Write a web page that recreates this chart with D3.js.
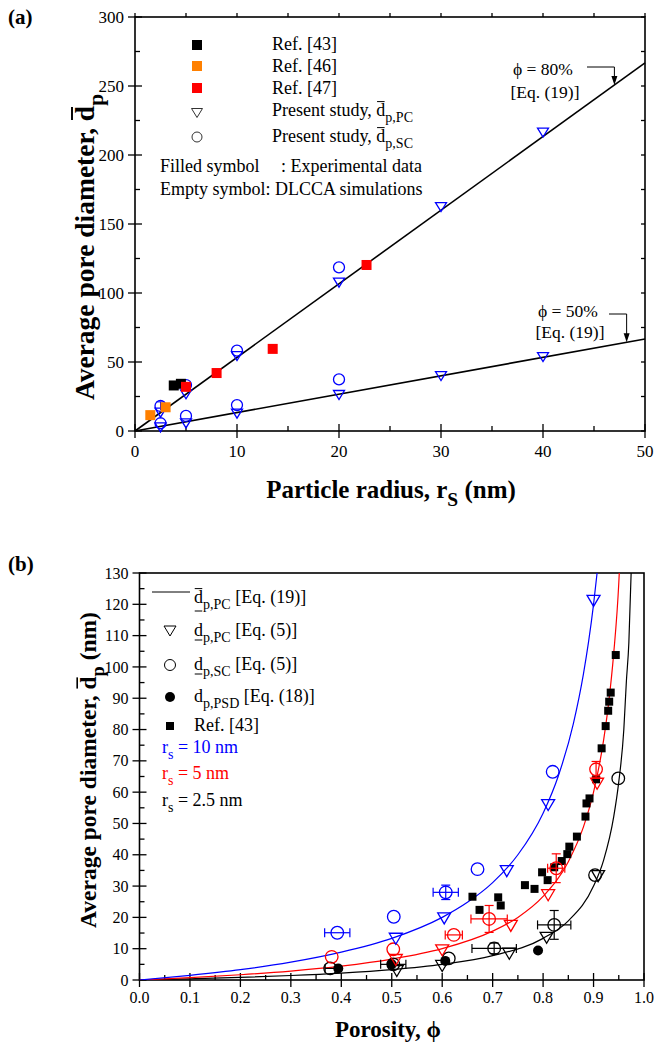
<!DOCTYPE html>
<html><head><meta charset="utf-8">
<script src="https://cdn.jsdelivr.net/npm/d3@7"></script>
<style>
body{margin:0;background:#fff;}
svg text{font-family:"Liberation Serif","Times New Roman",serif;}
</style></head><body>
<svg id="chart" width="654" height="1047"></svg>
<script>
// ---------------- Panel (a) data ----------------
const lineRs = [0, 50];
const line80 = [0, 266.7];
const line50 = [0, 66.7];
const ref43Rs = [3.8, 4.5];
const ref43D = [33.0, 34.2];
const ref46Rs = [1.5, 3.0];
const ref46D = [11.5, 17.2];
const ref47Rs = [5.0, 8.0, 13.5, 22.7];
const ref47D = [32.0, 42.0, 59.5, 120.3];
const pcRs = [2.5, 5, 10, 20, 30, 40];
const pc80 = [14.0, 27.3, 55.0, 108.2, 163.0, 217.0];
const pc50 = [3.3, 6.2, 13.3, 26.8, 40.5, 54.3];
const scRs = [2.5, 5, 10, 20];
const sc80 = [18.1, 33.3, 58.2, 118.6];
const sc80Err = [3.0, 0, 0, 0];
const sc50 = [5.6, 10.9, 18.8, 37.4];

// ---------------- Panel (b) data ----------------
const curvePhi10 = [0, 0.1, 0.2, 0.3, 0.4, 0.5, 0.6, 0.65, 0.7, 0.75, 0.8, 0.83, 0.86, 0.88, 0.89, 0.9, 0.907];
const curveD10 = [0, 1.5, 3.3, 5.7, 8.9, 13.3, 20.0, 24.8, 31.1, 40.0, 53.3, 65.1, 81.9, 97.8, 107.9, 120.0, 130];
const curvePhi5 = [0, 0.1, 0.2, 0.3, 0.4, 0.5, 0.6, 0.7, 0.75, 0.8, 0.85, 0.88, 0.9, 0.92, 0.93, 0.94, 0.95, 0.951];
const curveD5 = [0, 0.74, 1.67, 2.86, 4.44, 6.67, 10.0, 15.6, 20.0, 26.7, 37.8, 48.9, 60.0, 76.7, 88.6, 104.4, 126.7, 130];
const curvePhi25 = [0, 0.1, 0.2, 0.3, 0.4, 0.5, 0.6, 0.7, 0.8, 0.85, 0.9, 0.92, 0.94, 0.95, 0.96, 0.965, 0.97, 0.9745];
const curveD25 = [0, 0.37, 0.83, 1.43, 2.22, 3.33, 5.0, 7.78, 13.3, 18.9, 30.0, 38.3, 52.2, 63.3, 80.0, 95.2, 107.8, 130];

const pcPhi10 = [0.508, 0.604, 0.728, 0.810, 0.900];
const pcD10 = [13.5, 20.0, 35.1, 56.2, 121.4];
const scPhi10 = [0.392, 0.504, 0.607, 0.670, 0.819];
const scD10 = [15.1, 20.2, 28.0, 35.4, 66.5];
const scXErr10 = [0.025, 0, 0.025, 0, 0];
const scYErr10 = [0, 0, 2.3, 0, 0];

const pcPhi5 = [0.508, 0.600, 0.736, 0.810, 0.907];
const pcD5 = [6.7, 9.8, 17.6, 27.4, 63.0];
const scPhi5 = [0.381, 0.503, 0.623, 0.693, 0.826, 0.905];
const scD5 = [7.4, 9.8, 14.4, 19.5, 35.7, 67.3];
const scXErr5 = [0, 0, 0.017, 0.036, 0.017, 0];
const scYErr5 = [0, 0, 0, 4.3, 4.6, 2.5];

const pcPhi25 = [0.510, 0.600, 0.733, 0.807, 0.909];
const pcD25 = [3.2, 4.8, 8.7, 13.8, 33.5];
const scPhi25 = [0.378, 0.503, 0.613, 0.703, 0.822, 0.903, 0.949];
const scD25 = [3.7, 5.0, 6.9, 10.1, 17.6, 33.5, 64.4];
const scXErr25 = [0.01, 0.025, 0, 0.044, 0.033, 0, 0];
const scYErr25 = [0, 0, 0, 1.7, 4.6, 0, 0];

const psdPhi = [0.394, 0.500, 0.606, 0.790];
const psdD = [3.7, 5.0, 6.1, 9.4];

const ref43Phi = [0.660, 0.674, 0.711, 0.716, 0.764, 0.783, 0.798, 0.809, 0.822, 0.837, 0.848, 0.852, 0.867, 0.884, 0.886, 0.892, 0.905, 0.916, 0.924, 0.929, 0.931, 0.934, 0.944];
const ref43DB = [26.6, 22.4, 26.4, 23.8, 30.3, 29.1, 34.4, 31.9, 36.0, 38.0, 40.2, 42.6, 45.8, 52.2, 56.4, 58.0, 64.1, 74.0, 81.1, 86.0, 88.9, 91.8, 103.8];

// tick values
const xTicksA = [0, 10, 20, 30, 40, 50];
const yTicksA = [0, 50, 100, 150, 200, 250, 300];
const xTicksB = [0, 0.1, 0.2, 0.3, 0.4, 0.5, 0.6, 0.7, 0.8, 0.9, 1.0];
const yTicksB = [0, 10, 20, 30, 40, 50, 60, 70, 80, 90, 100, 110, 120, 130];

const BLUE = "#0000ff", RED = "#ff0000", ORANGE = "#ff8000", BLACK = "#000000";
const svg = d3.select("#chart");

// ---------- helpers ----------
function rich(parent, x, y, parts, size, opts = {}) {
  const fill = opts.fill || "#000";
  const subR = opts.subR || 0.78;
  const t = parent.append("text").attr("x", x).attr("y", y).attr("font-size", size).attr("fill", fill);
  if (opts.bold) t.attr("font-weight", "bold");
  if (opts.anchor) t.attr("text-anchor", opts.anchor);
  t.style("white-space", "pre");
  let shift = 0, idx = 0;
  const marks = [];
  parts.forEach(p => {
    const sp = t.append("tspan").text(p.t);
    const target = p.sub ? size * 0.33 : 0;
    if (target - shift !== 0) sp.attr("dy", target - shift);
    shift = target;
    if (p.sub) sp.attr("font-size", size * subR);
    if (p.over || p.under) marks.push({a: idx, b: idx + p.t.length - 1, over: p.over, under: p.under});
    idx += p.t.length;
  });
  const n = t.node();
  marks.forEach(m => {
    const ra = n.getExtentOfChar(m.a), rb = n.getExtentOfChar(m.b);
    const x1 = ra.x + size * 0.04, x2 = rb.x + rb.width - size * 0.04;
    const sw = opts.bold ? size * 0.07 : 1;
    if (m.over) parent.append("line").attr("x1", x1).attr("x2", x2)
      .attr("y1", y - size * 0.8).attr("y2", y - size * 0.8).attr("stroke", fill).attr("stroke-width", sw);
    if (m.under) parent.append("line").attr("x1", x1).attr("x2", x2)
      .attr("y1", y + m.under).attr("y2", y + m.under).attr("stroke", fill).attr("stroke-width", 1);
  });
  return t;
}
function triPath(w, h) {
  return `M${-w/2},${-h/2}L${w/2},${-h/2}L0,${h/2}Z`;
}
function minorVals(a, b, step) { const r = []; for (let v = a; v <= b + 1e-9; v += step) r.push(+v.toFixed(4)); return r; }

// ================= PANEL (a) =================
const xA = d3.scaleLinear().domain([0, 50]).range([135, 645]);
const yA = d3.scaleLinear().domain([0, 300]).range([431, 17]);
const gA = svg.append("g");

const xMinA = [5, 15, 25, 35, 45];
const yMinA = [25, 75, 125, 175, 225, 275];
function tickLines(g, vals, scale, orient, pos, len1, len2) {
  vals.forEach(v => {
    const p = scale(v);
    if (orient === "h") g.append("line").attr("x1", p).attr("x2", p).attr("y1", pos + len1).attr("y2", pos - len2);
    else g.append("line").attr("y1", p).attr("y2", p).attr("x1", pos - len1).attr("x2", pos + len2);
  });
}
const axA = gA.append("g").attr("stroke", "#000").attr("stroke-width", 1.3);
tickLines(axA, xTicksA, xA, "h", yA(0), 7, 7);
tickLines(axA, xMinA, xA, "h", yA(0), 0, 5);
tickLines(axA, yTicksA, yA, "v", xA(0), 7, 7);
tickLines(axA, yMinA, yA, "v", xA(0), 0, 5);
tickLines(axA, xTicksA.concat(xMinA), xA, "h", yA(300), -4, 0);
tickLines(axA, yTicksA.concat(yMinA), yA, "v", xA(50), 4, 0);
gA.append("rect").attr("x", xA(0)).attr("y", yA(300)).attr("width", xA(50) - xA(0)).attr("height", yA(0) - yA(300))
  .attr("fill", "none").attr("stroke", "#000").attr("stroke-width", 1.6);
xTicksA.forEach(v => gA.append("text").attr("x", xA(v)).attr("y", yA(0) + 26).attr("text-anchor", "middle").attr("font-size", 17).text(v));
yTicksA.forEach(v => gA.append("text").attr("x", xA(0) - 11).attr("y", yA(v)).attr("dy", "0.35em").attr("text-anchor", "end").attr("font-size", 17).text(v));

const lineGenA = d3.line();
[line80, line50].forEach(arr => {
  gA.append("path").attr("d", lineGenA(lineRs.map((r, i) => [xA(r), yA(arr[i])])))
    .attr("fill", "none").attr("stroke", "#000").attr("stroke-width", 1.6);
});

const sqA = 10;
function squaresA(rs, d, col) {
  rs.forEach((r, i) => gA.append("rect").attr("x", xA(r) - sqA/2).attr("y", yA(d[i]) - sqA/2).attr("width", sqA).attr("height", sqA).attr("fill", col));
}
pcRs.forEach((r, i) => {
  [pc80[i], pc50[i]].forEach(v => gA.append("path").attr("d", triPath(11, 9)).attr("transform", `translate(${xA(r)},${yA(v) + 1})`)
    .attr("fill", "none").attr("stroke", BLUE).attr("stroke-width", 1.3));
});
scRs.forEach((r, i) => {
  gA.append("circle").attr("cx", xA(r)).attr("cy", yA(sc80[i])).attr("r", 5.5).attr("fill", "none").attr("stroke", BLUE).attr("stroke-width", 1.3);
  gA.append("circle").attr("cx", xA(r)).attr("cy", yA(sc50[i])).attr("r", 5.5).attr("fill", "none").attr("stroke", BLUE).attr("stroke-width", 1.3);
  if (sc80Err[i] > 0) {
    const x = xA(r), y1 = yA(sc80[i] + sc80Err[i]), y2 = yA(sc80[i] - sc80Err[i]);
    gA.append("line").attr("x1", x).attr("x2", x).attr("y1", y1).attr("y2", y2).attr("stroke", BLUE);
    gA.append("line").attr("x1", x - 4).attr("x2", x + 4).attr("y1", y1).attr("y2", y1).attr("stroke", BLUE);
  }
});
squaresA(ref46Rs, ref46D, ORANGE);
squaresA(ref43Rs, ref43D, BLACK);
squaresA(ref47Rs, ref47D, RED);

// legend a
const legA = gA.append("g");
const legX = 197, legTX = 272;
legA.append("rect").attr("x", legX - 5).attr("y", 45 - 5).attr("width", 10).attr("height", 10).attr("fill", BLACK);
legA.append("rect").attr("x", legX - 5).attr("y", 66 - 5).attr("width", 10).attr("height", 10).attr("fill", ORANGE);
legA.append("rect").attr("x", legX - 5).attr("y", 88 - 5).attr("width", 10).attr("height", 10).attr("fill", RED);
legA.append("path").attr("d", triPath(11, 9)).attr("transform", `translate(${legX},113)`).attr("fill", "none").attr("stroke", "#333").attr("stroke-width", 1);
legA.append("circle").attr("cx", legX).attr("cy", 137).attr("r", 5).attr("fill", "none").attr("stroke", "#333").attr("stroke-width", 1);
const fsL = 18;
rich(legA, legTX, 50, [{t: "Ref. [43]"}], fsL);
rich(legA, legTX, 72, [{t: "Ref. [46]"}], fsL);
rich(legA, legTX, 94, [{t: "Ref. [47]"}], fsL);
rich(legA, legTX, 116, [{t: "Present study, "}, {t: "d", over: true}, {t: "p,PC", sub: true}], fsL);
rich(legA, legTX, 142, [{t: "Present study, "}, {t: "d", over: true}, {t: "p,SC", sub: true}], fsL);
rich(legA, 160, 172, [{t: "Filled symbol"}], fsL);
rich(legA, 281, 172, [{t: ": Experimental data"}], fsL);
rich(legA, 160, 195, [{t: "Empty symbol: DLCCA simulations"}], fsL);

// annotations a
function annot(g, cx, y1, y2, ax1, ax2, ay, tipY, label) {
  rich(g, cx, y1, [{t: label}], 17.5, {anchor: "middle"});
  rich(g, cx + 2, y2, [{t: "[Eq. (19)]"}], 17.5, {anchor: "middle"});
  g.append("path").attr("d", `M${ax1},${ay}H${ax2}V${tipY - 6}`).attr("fill", "none").attr("stroke", "#000").attr("stroke-width", 1);
  g.append("path").attr("d", `M${ax2 - 3},${tipY - 9}L${ax2 + 3},${tipY - 9}L${ax2},${tipY}Z`).attr("fill", "#000");
}
const arrRs80 = 47.0, arrRs50 = 48.2;
annot(gA, 543, 75, 98, 587, xA(arrRs80), 67, yA(line80[1] * arrRs80 / lineRs[1]), "\u03D5 = 80%");
annot(gA, 568, 317, 338, 609, xA(arrRs50), 314, yA(line50[1] * arrRs50 / lineRs[1]), "\u03D5 = 50%");

// titles a
rich(svg, 391, 498, [{t: "Particle radius, r"}, {t: "S", sub: true}, {t: " (nm)"}], 25, {bold: true, anchor: "middle"});
const gtA = svg.append("g").attr("transform", "translate(94,247) rotate(-90)");
rich(gtA, 0, 0, [{t: "Average pore diameter, "}, {t: "d", over: true}, {t: "p", sub: true}], 27.5, {bold: true, anchor: "middle"});
rich(svg, 8, 24, [{t: "(a)"}], 21, {bold: true});

// ================= PANEL (b) =================
const xB = d3.scaleLinear().domain([0, 1]).range([139.5, 644]);
const yB = d3.scaleLinear().domain([0, 130]).range([980, 573]);
const gB = svg.append("g");
svg.append("defs").append("clipPath").attr("id", "clipB").append("rect")
  .attr("x", xB(0)).attr("y", yB(130)).attr("width", xB(1) - xB(0)).attr("height", yB(0) - yB(130));

const axB = gB.append("g").attr("stroke", "#000").attr("stroke-width", 1.3);
tickLines(axB, xTicksB, xB, "h", yB(0), 7, 7);
tickLines(axB, minorVals(0.05, 0.95, 0.1), xB, "h", yB(0), 0, 5);
tickLines(axB, yTicksB, yB, "v", xB(0), 7, 7);
tickLines(axB, minorVals(5, 125, 10), yB, "v", xB(0), 0, 5);
gB.append("rect").attr("x", xB(0)).attr("y", yB(130)).attr("width", xB(1) - xB(0)).attr("height", yB(0) - yB(130))
  .attr("fill", "none").attr("stroke", "#000").attr("stroke-width", 1.6);
xTicksB.forEach(v => gB.append("text").attr("x", xB(v)).attr("y", yB(0) + 23).attr("text-anchor", "middle").attr("font-size", 16).text(d3.format(".1f")(v)));
yTicksB.forEach(v => gB.append("text").attr("x", xB(0) - 11).attr("y", yB(v)).attr("dy", "0.35em").attr("text-anchor", "end").attr("font-size", 16).text(v));

const plotB = gB.append("g").attr("clip-path", "url(#clipB)");
const lineB = d3.line().curve(d3.curveMonotoneX);
[[curvePhi25, curveD25, BLACK], [curvePhi5, curveD5, RED], [curvePhi10, curveD10, BLUE]].forEach(([p, d, c]) => {
  plotB.append("path").attr("d", lineB(p.map((v, i) => [xB(v), yB(d[i])]))).attr("fill", "none").attr("stroke", c).attr("stroke-width", 1.2);
});

function errBars(g, phi, d, xe, ye, col) {
  phi.forEach((p, i) => {
    const x = xB(p), y = yB(d[i]);
    if (xe[i] > 0) {
      const x1 = xB(p - xe[i]), x2 = xB(p + xe[i]);
      g.append("line").attr("x1", x1).attr("x2", x2).attr("y1", y).attr("y2", y).attr("stroke", col).attr("stroke-width", 1.2);
      [x1, x2].forEach(xx => g.append("line").attr("x1", xx).attr("x2", xx).attr("y1", y - 4.5).attr("y2", y + 4.5).attr("stroke", col).attr("stroke-width", 1.2));
    }
    if (ye[i] > 0) {
      const y1 = yB(d[i] + ye[i]), y2 = yB(d[i] - ye[i]);
      g.append("line").attr("x1", x).attr("x2", x).attr("y1", y1).attr("y2", y2).attr("stroke", col).attr("stroke-width", 1.2);
      [y1, y2].forEach(yy => g.append("line").attr("x1", x - 4.5).attr("x2", x + 4.5).attr("y1", yy).attr("y2", yy).attr("stroke", col).attr("stroke-width", 1.2));
    }
  });
}
function openCircles(g, phi, d, col) {
  phi.forEach((p, i) => g.append("circle").attr("cx", xB(p)).attr("cy", yB(d[i])).attr("r", 6.3).attr("fill", "none").attr("stroke", col).attr("stroke-width", 1.3));
}
function openTris(g, phi, d, col) {
  phi.forEach((p, i) => g.append("path").attr("d", triPath(13, 11)).attr("transform", `translate(${xB(p)},${yB(d[i]) + 1})`).attr("fill", "none").attr("stroke", col).attr("stroke-width", 1.3));
}
ref43Phi.forEach((p, i) => gB.append("rect").attr("x", xB(p) - 4).attr("y", yB(ref43DB[i]) - 4).attr("width", 8).attr("height", 8).attr("fill", BLACK));
psdPhi.forEach((p, i) => gB.append("circle").attr("cx", xB(p)).attr("cy", yB(psdD[i])).attr("r", 5).attr("fill", BLACK));
errBars(gB, scPhi25, scD25, scXErr25, scYErr25, BLACK);
openCircles(gB, scPhi25, scD25, BLACK);
openTris(gB, pcPhi25, pcD25, BLACK);
errBars(gB, scPhi5, scD5, scXErr5, scYErr5, RED);
openCircles(gB, scPhi5, scD5, RED);
openTris(gB, pcPhi5, pcD5, RED);
errBars(gB, scPhi10, scD10, scXErr10, scYErr10, BLUE);
openCircles(gB, scPhi10, scD10, BLUE);
openTris(gB, pcPhi10, pcD10, BLUE);

// legend b
const legB = gB.append("g");
const lbX = 170, lbT = 194, fsB = 18;
legB.append("line").attr("x1", 152).attr("x2", 190).attr("y1", 592).attr("y2", 592).attr("stroke", "#000").attr("stroke-width", 1);
legB.append("path").attr("d", triPath(12, 10)).attr("transform", `translate(${lbX},631)`).attr("fill", "none").attr("stroke", "#000").attr("stroke-width", 1);
legB.append("circle").attr("cx", lbX).attr("cy", 665).attr("r", 5.5).attr("fill", "none").attr("stroke", "#000").attr("stroke-width", 1);
legB.append("circle").attr("cx", lbX).attr("cy", 697).attr("r", 5).attr("fill", "#000");
legB.append("rect").attr("x", lbX - 4).attr("y", 726 - 4).attr("width", 8).attr("height", 8).attr("fill", "#000");
rich(legB, lbT, 603, [{t: "d", over: true, under: 8}, {t: "p,PC", sub: true}, {t: " [Eq. (19)]"}], fsB);
rich(legB, lbT, 636, [{t: "d", under: 4}, {t: "p,PC", sub: true}, {t: " [Eq. (5)]"}], fsB);
rich(legB, lbT, 670, [{t: "d", under: 4}, {t: "p,SC", sub: true}, {t: " [Eq. (5)]"}], fsB);
rich(legB, lbT, 702, [{t: "d"}, {t: "p,PSD", sub: true}, {t: " [Eq. (18)]"}], fsB);
rich(legB, lbT, 731, [{t: "Ref. [43]"}], fsB);
rich(legB, 162, 753, [{t: "r"}, {t: "s", sub: true}, {t: " = 10 nm"}], fsB, {fill: BLUE});
rich(legB, 162, 779, [{t: "r"}, {t: "s", sub: true}, {t: " = 5 nm"}], fsB, {fill: RED});
rich(legB, 162, 806, [{t: "r"}, {t: "s", sub: true}, {t: " = 2.5 nm"}], fsB, {fill: BLACK});

// titles b
rich(svg, 388, 1037, [{t: "Porosity, \u03D5"}], 23, {bold: true, anchor: "middle"});
const gtB = svg.append("g").attr("transform", "translate(96,770) rotate(-90)");
rich(gtB, 0, 0, [{t: "Average pore diameter, "}, {t: "d", over: true}, {t: "p", sub: true}, {t: " (nm)"}], 23.5, {bold: true, anchor: "middle"});
rich(svg, 8, 571, [{t: "(b)"}], 21, {bold: true});
</script>
</body></html>
